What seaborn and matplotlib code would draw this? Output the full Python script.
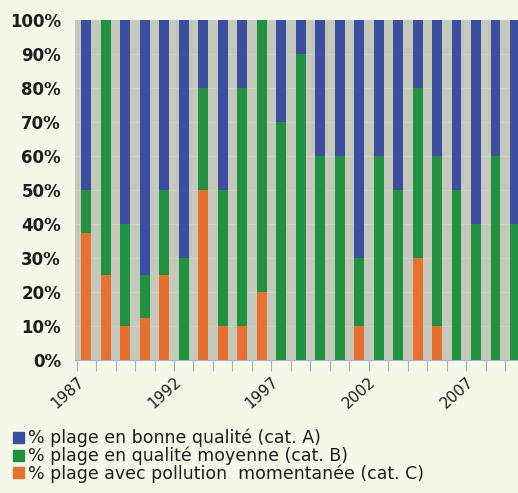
import numpy as np
import pandas as pd
import seaborn as sns
import matplotlib.pyplot as plt

years = list(range(1987, 2010))
cat_c = [37.5, 25, 10, 12.5, 25, 0, 50, 10, 10, 20, 0, 0, 0, 0, 10, 0, 0, 30, 10, 0, 0, 0, 0]
cat_b = [12.5, 75, 30, 12.5, 25, 30, 30, 40, 70, 80, 70, 90, 60, 60, 20, 60, 50, 50, 50, 50, 40, 60, 40]
cat_a = [100 - c - b for c, b in zip(cat_c, cat_b)]

labels = ['% plage en bonne qualité (cat. A)',
          '% plage en qualité moyenne (cat. B)',
          '% plage avec pollution  momentanée (cat. C)']
colors = ['#3b4ea0', '#1f9140', '#e8702e']

df = pd.DataFrame({'annee': [str(y) for y in years], 'A': cat_a, 'B': cat_b, 'C': cat_c})
df['BC'] = df['B'] + df['C']
df['ABC'] = df['A'] + df['BC']

sns.set_theme(style='white')
plt.rcParams['font.family'] = ['DejaVu Sans']

fig = plt.figure(figsize=(5.18, 4.93), dpi=100, facecolor='#f5f8e8')
ax = fig.add_axes([75 / 518, 133 / 493, 1 - 75 / 518, 340 / 493])
ax.set_facecolor('#c5c9bb')

# barres empilées : on dessine du total vers le bas
for col, c in zip(['ABC', 'BC', 'C'], colors):
    sns.barplot(data=df, x='annee', y=col, color=c, width=0.5, saturation=1,
                linewidth=0, ax=ax, zorder=3)

ax.set_xlim(-0.58, 22.15)
ax.set_ylim(0, 100)
ax.set_xlabel('')
ax.set_ylabel('')

ax.set_yticks(range(0, 101, 10))
ax.set_yticklabels([f'{v}%' for v in range(0, 101, 10)], fontsize=12, color='#1e1e1e', fontweight='bold')
ax.tick_params(axis='y', length=0, pad=10)
for v in range(10, 100, 10):
    ax.axhline(v, color='#d0d4c6', lw=0.6, zorder=1)

ax.set_xticks(np.arange(len(years)) - 0.5)
ax.set_xticklabels([str(y) if (y - 1987) % 5 == 0 else '' for y in years],
                   rotation=42, ha='right', rotation_mode='anchor', fontsize=11, color='#1e1e1e')
ax.tick_params(axis='x', length=8, width=0.8, color='#a8b0c8', pad=2, direction='out', bottom=True)

for s in ['top', 'right', 'left']:
    ax.spines[s].set_visible(False)
ax.spines['bottom'].set_color('#a8b0c8')
ax.spines['bottom'].set_linewidth(0.8)

handles = [plt.Rectangle((0, 0), 1, 1, color=c) for c in colors]
fig.legend(handles, labels, loc='upper left', bbox_to_anchor=(0.026, 0.130), frameon=False,
           prop={'family': 'DejaVu Sans', 'size': 12.5}, handlelength=0.6, handleheight=0.6,
           handletextpad=0.25, labelspacing=-0.04, labelcolor='#1e1e1e',
           borderaxespad=0, borderpad=0)

fig.savefig('out.png', dpi=100, facecolor=fig.get_facecolor())
